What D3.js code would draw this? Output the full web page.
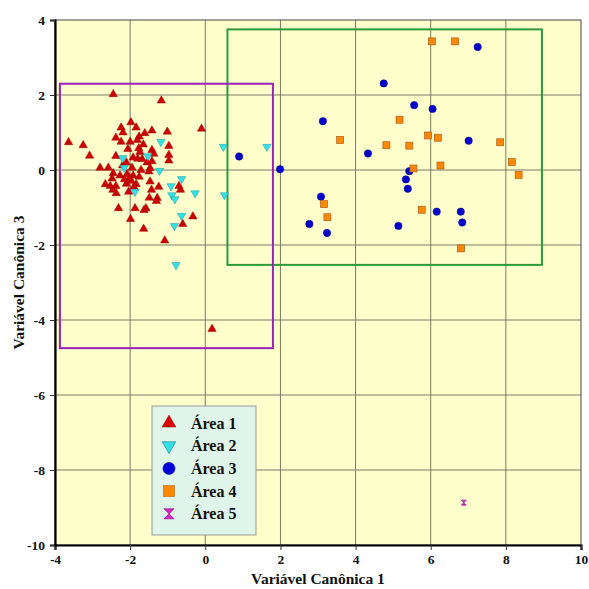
<!DOCTYPE html>
<html>
<head>
<meta charset="utf-8">
<script src="https://cdn.jsdelivr.net/npm/d3@7"></script>
<style>
  body { margin: 0; background: #fff; }
  svg text { font-family: "Liberation Serif", "DejaVu Serif", serif; font-weight: bold; }
</style>
</head>
<body>
<svg id="chart"></svg>
<script>
// Área 1 (red triangles)
const area1 = [
  [-2.45, 2.02], [-1.17, 1.85], [-0.10, 1.10], [-3.64, 0.74], [-3.25, 0.66], [-3.08, 0.38],
  [-1.98, 1.27], [-2.24, 1.13], [-1.84, 1.13], [-2.19, 1.00], [-1.42, 1.05], [-1.61, 0.98],
  [-1.01, 1.02], [-2.38, 0.86], [-1.76, 0.89], [-1.81, 0.80], [-2.24, 0.75], [-0.97, 0.64],
  [-2.06, 0.56], [-1.77, 0.58], [-1.42, 0.53], [-1.74, 0.48], [-1.37, 0.43], [-0.97, 0.40],
  [-2.38, 0.37], [-1.92, 0.33], [-1.68, 0.29], [-0.97, 0.25], [-1.42, 0.23], [-2.80, 0.06],
  [-2.58, 0.06], [-1.95, 0.06], [-1.47, 0.05], [-1.71, 0.00], [-2.45, -0.09], [-2.27, -0.15],
  [-2.08, -0.11], [-1.92, -0.15], [-1.50, -0.04], [-2.48, -0.23], [-2.02, -0.22], [-1.76, -0.18],
  [-1.47, -0.31], [-2.66, -0.38], [-2.53, -0.43], [-2.38, -0.43], [-2.10, -0.37], [-1.97, -0.29],
  [-1.84, -0.38], [-1.24, -0.45], [-0.70, -0.43], [-2.46, -0.53], [-2.37, -0.62], [-2.04, -0.58],
  [-1.43, -0.53], [-0.66, -0.53], [-1.49, -0.74], [-1.28, -0.75], [-1.30, -0.83], [-2.31, -1.02],
  [-1.87, -1.02], [-1.58, -1.02], [-1.63, -1.07], [-1.99, -1.31], [-0.33, -1.24], [-0.60, -1.44],
  [-1.64, -1.57], [-1.08, -1.88], [0.18, -4.24], [-2.15, -0.25], [-2.20, 0.12], [-1.80, 0.30],
  [-1.55, 0.20], [-2.10, 0.20], [-1.90, -0.45], [-2.00, 0.75], [-1.65, 0.68]
];
// Área 2 (cyan inverted triangles)
const area2 = [
  [-1.18, 0.75], [0.48, 0.62], [1.64, 0.62], [-2.20, 0.32], [-1.53, 0.37], [-2.16, 0.06],
  [-1.22, -0.02], [-0.63, -0.24], [-0.91, -0.43], [-1.87, -0.58], [-0.89, -0.67], [-0.81, -0.78],
  [-0.27, -0.62], [0.51, -0.67], [-0.63, -1.22], [-0.82, -1.49], [-0.78, -2.53]
];
// Área 3 (blue circles)
const area3 = [
  [7.25, 3.28], [4.75, 2.31], [5.56, 1.73], [6.05, 1.63], [3.13, 1.30], [7.01, 0.78],
  [0.90, 0.36], [4.33, 0.44], [1.99, 0.02], [5.43, -0.03], [5.34, -0.25], [5.39, -0.50],
  [3.08, -0.71], [6.16, -1.11], [6.80, -1.11], [6.84, -1.40], [2.77, -1.44], [5.14, -1.49],
  [3.24, -1.68]
];
// Área 4 (orange squares)
const area4 = [
  [6.03, 3.43], [6.65, 3.43], [5.17, 1.34], [3.59, 0.80], [5.93, 0.92], [6.19, 0.86],
  [4.82, 0.66], [5.43, 0.65], [7.85, 0.74], [8.16, 0.21], [8.34, -0.13], [5.54, 0.04],
  [6.26, 0.12], [3.16, -0.91], [3.25, -1.26], [5.76, -1.06], [6.81, -2.09]
];
// Área 5 (magenta hourglass)
const area5 = [[6.88, -8.87]];

// group boxes [x0, x1, y0, y1]
const boxPurple = [-3.87, 1.80, -4.75, 2.30];
const boxGreen = [0.59, 8.96, -2.53, 3.75];

const xTicks = [-4, -2, 0, 2, 4, 6, 8, 10];
const yTicks = [4, 2, 0, -2, -4, -6, -8, -10];
const legendLabels = ["Área 1", "Área 2", "Área 3", "Área 4", "Área 5"];

const width = 589, height = 589;
const margin = {top: 20, right: 8, bottom: 44, left: 55};

const svg = d3.select("#chart").attr("width", width).attr("height", height);

const x = d3.scaleLinear().domain([-4, 10]).range([margin.left, width - margin.right]);
const y = d3.scaleLinear().domain([-10, 4]).range([height - margin.bottom, margin.top]);

// plot background
svg.append("rect")
  .attr("x", x(-4)).attr("y", y(4))
  .attr("width", x(10) - x(-4)).attr("height", y(-10) - y(4))
  .attr("fill", "#ffffcc");

// grid
svg.append("g").selectAll("line")
  .data(xTicks.slice(1, -1))
  .join("line")
  .attr("x1", d => x(d)).attr("x2", d => x(d))
  .attr("y1", y(4)).attr("y2", y(-10))
  .attr("stroke", "#7a7a66").attr("stroke-width", 1);
svg.append("g").selectAll("line")
  .data(yTicks.slice(1, -1))
  .join("line")
  .attr("y1", d => y(d)).attr("y2", d => y(d))
  .attr("x1", x(-4)).attr("x2", x(10))
  .attr("stroke", "#7a7a66").attr("stroke-width", 1);

// frame
svg.append("rect")
  .attr("x", x(-4)).attr("y", y(4))
  .attr("width", x(10) - x(-4)).attr("height", y(-10) - y(4))
  .attr("fill", "none").attr("stroke", "#444").attr("stroke-width", 1);

// group boxes
function drawBox(b, color) {
  svg.append("rect")
    .attr("x", x(b[0])).attr("y", y(b[3]))
    .attr("width", x(b[1]) - x(b[0])).attr("height", y(b[2]) - y(b[3]))
    .attr("fill", "none").attr("stroke", color).attr("stroke-width", 2);
}
drawBox(boxGreen, "#2a9a3a");
drawBox(boxPurple, "#9922bb");

// markers
const tri = d3.symbol().type(d3.symbolTriangle).size(30);
svg.append("g").selectAll("path")
  .data(area1).join("path")
  .attr("d", tri)
  .attr("transform", d => `translate(${x(d[0])},${y(d[1])})`)
  .attr("fill", "#cc0000").attr("stroke", "#990000").attr("stroke-width", 0.5);

svg.append("g").selectAll("path")
  .data(area2).join("path")
  .attr("d", tri)
  .attr("transform", d => `translate(${x(d[0])},${y(d[1])}) rotate(180)`)
  .attr("fill", "#33e0e8").attr("stroke", "#1a9aa0").attr("stroke-width", 0.5);

svg.append("g").selectAll("circle")
  .data(area3).join("circle")
  .attr("cx", d => x(d[0])).attr("cy", d => y(d[1]))
  .attr("r", 3.7)
  .attr("fill", "#0000cc").attr("stroke", "#000088").attr("stroke-width", 0.5);

svg.append("g").selectAll("rect")
  .data(area4).join("rect")
  .attr("x", d => x(d[0]) - 3.5).attr("y", d => y(d[1]) - 3.5)
  .attr("width", 7).attr("height", 7)
  .attr("fill", "#ff8800").attr("stroke", "#a05010").attr("stroke-width", 0.6);

const hourglass = s => `M${-s},${-s}L${s},${-s}L${-s},${s}L${s},${s}Z`;
svg.append("g").selectAll("path")
  .data(area5).join("path")
  .attr("d", hourglass(2.5))
  .attr("transform", d => `translate(${x(d[0])},${y(d[1])})`)
  .attr("fill", "#dd22cc").attr("stroke", "#990099").attr("stroke-width", 0.6);

// axes
const xAxis = svg.append("g")
  .attr("transform", `translate(0,${y(-10)})`)
  .call(d3.axisBottom(x).tickValues(xTicks).tickFormat(d => String(d)).tickSize(5).tickPadding(4));
const yAxis = svg.append("g")
  .attr("transform", `translate(${x(-4)},0)`)
  .call(d3.axisLeft(y).tickValues(yTicks).tickFormat(d => String(d)).tickSize(5).tickPadding(5));
[xAxis, yAxis].forEach(g => {
  g.select(".domain").attr("stroke", "#000").attr("stroke-width", 2.2);
  g.selectAll(".tick line").attr("stroke", "#333");
  g.selectAll(".tick text")
    .attr("font-family", "Liberation Serif, serif")
    .attr("font-weight", "bold").attr("font-size", 13.5).attr("fill", "#111");
});

svg.append("text")
  .attr("x", (x(-4) + x(10)) / 2).attr("y", 584)
  .attr("text-anchor", "middle").attr("font-size", 15.5).attr("fill", "#111")
  .text("Variável Canônica 1");
svg.append("text")
  .attr("transform", `translate(24,${(y(4) + y(-10)) / 2}) rotate(-90)`)
  .attr("text-anchor", "middle").attr("font-size", 15.5).attr("fill", "#111")
  .text("Variável Canônica 3");

// legend
const lg = svg.append("g").attr("transform", "translate(152,406)");
lg.append("rect")
  .attr("width", 104).attr("height", 129)
  .attr("fill", "#dff5ea").attr("stroke", "#999").attr("stroke-width", 1);
const legendMarks = [
  g => g.append("path").attr("d", d3.symbol().type(d3.symbolTriangle).size(80))
    .attr("fill", "#dd0000").attr("stroke", "#880000").attr("stroke-width", 0.6),
  g => g.append("path").attr("d", d3.symbol().type(d3.symbolTriangle).size(80))
    .attr("transform", "rotate(180)")
    .attr("fill", "#33e0e8").attr("stroke", "#1a7a80").attr("stroke-width", 0.6),
  g => g.append("circle").attr("r", 6)
    .attr("fill", "#0000dd").attr("stroke", "#000088").attr("stroke-width", 0.6),
  g => g.append("rect").attr("x", -5.5).attr("y", -5.5).attr("width", 11).attr("height", 11)
    .attr("fill", "#ff8800").attr("stroke", "#c06010").attr("stroke-width", 0.6),
  g => g.append("path").attr("d", hourglass(5))
    .attr("fill", "#dd22cc").attr("stroke", "#880088").attr("stroke-width", 0.6)
];
legendLabels.forEach((lab, i) => {
  const row = lg.append("g").attr("transform", `translate(0,${17 + i * 22.7})`);
  legendMarks[i](row.append("g").attr("transform", "translate(17,0)"));
  row.append("text").attr("x", 39).attr("y", 5.5)
    .attr("font-size", 16).attr("fill", "#111").text(lab);
});
</script>
</body>
</html>
